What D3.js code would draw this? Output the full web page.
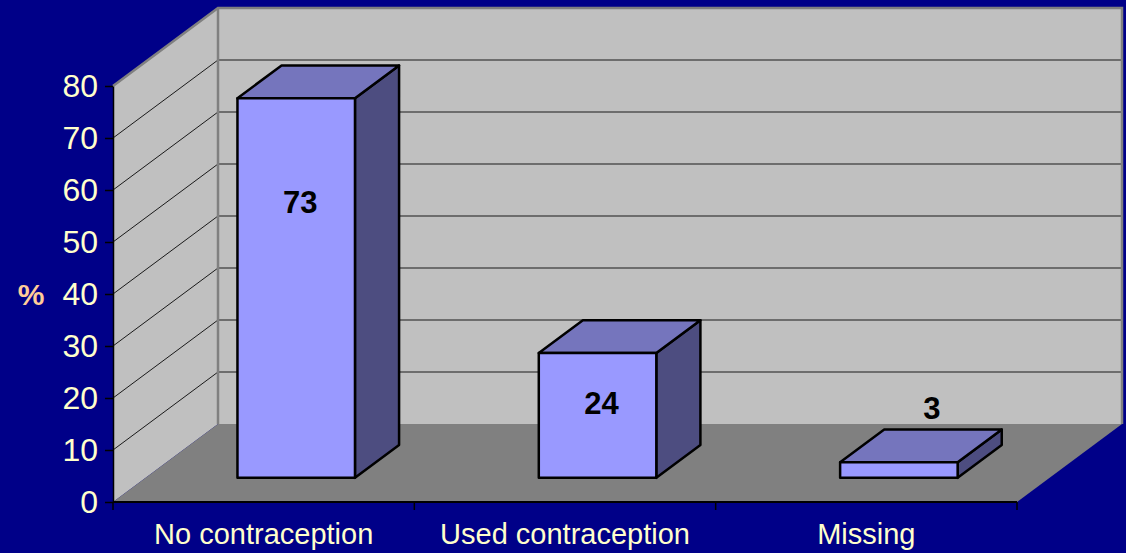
<!DOCTYPE html>
<html>
<head>
<meta charset="utf-8">
<script src="https://cdn.jsdelivr.net/npm/d3@7"></script>
<style>
    html, body { margin: 0; padding: 0; background: #000088; }
    svg { display: block; }
</style>
</head>
<body>
<svg id="chart" width="1126" height="553"></svg>
<script>
// chart data
const categories = ["No contraception", "Used contraception", "Missing"];
const values = [73, 24, 3];
const yTicks = [0, 10, 20, 30, 40, 50, 60, 70, 80];
const axisTitle = "%";

// colours
const bgColor = "#000088";
const wallColor = "#c0c0c0";
const floorColor = "#808080";
const edgeColor = "#808080";
const gridColor = "#1a1a1a";
const frontColor = "#9999ff";
const topColor = "#7575bd";
const sideColor = "#4d4d80";
const tickTextColor = "#ffffcc";
const titleColor = "#ffcc99";

const svg = d3.select("svg");
const font = "'Liberation Sans', Arial, sans-serif";

// front plane of the plot
const left = 113, right = 1017;
const y = d3.scaleLinear().domain([0, 80]).range([502, 86]);
const x = d3.scaleBand().domain(categories).range([left, right]);

// depth of the whole box, and where the bars sit in it (0 = front, 1 = back)
const depthX = 105, depthY = 78;
const barFront = 0.31, barBack = 0.73;
const barWidth = x.bandwidth() * 0.39;

function proj(px, py, f) {
    return [px + depthX * f, py - depthY * f];
}

const yTop = y(80), yBottom = y(0);

svg.append("rect")
    .attr("width", 1126).attr("height", 553)
    .attr("fill", bgColor);

// walls and floor
const box = svg.append("g");
const pts = a => a.map(p => p.join(",")).join(" ");
// back wall
box.append("polygon")
    .attr("points", pts([proj(left, yTop, 1), proj(right, yTop, 1), proj(right, yBottom, 1), proj(left, yBottom, 1)]))
    .attr("fill", wallColor);
// side wall
box.append("polygon")
    .attr("points", pts([[left, yTop], proj(left, yTop, 1), proj(left, yBottom, 1), [left, yBottom]]))
    .attr("fill", wallColor);
// floor
box.append("polygon")
    .attr("points", pts([[left, yBottom], proj(left, yBottom, 1), proj(right, yBottom, 1), [right, yBottom]]))
    .attr("fill", floorColor);

// gridlines on back wall and side wall
const gridVals = yTicks.filter(v => v > 0 && v < 80);
box.selectAll("line.back")
    .data(gridVals)
    .join("line")
    .attr("class", "back")
    .attr("x1", proj(left, 0, 1)[0])
    .attr("x2", proj(right, 0, 1)[0])
    .attr("y1", d => proj(0, y(d), 1)[1])
    .attr("y2", d => proj(0, y(d), 1)[1])
    .attr("stroke", gridColor)
    .attr("stroke-width", 1);
box.selectAll("line.side")
    .data(gridVals)
    .join("line")
    .attr("class", "side")
    .attr("x1", left)
    .attr("y1", d => y(d))
    .attr("x2", proj(left, 0, 1)[0])
    .attr("y2", d => proj(0, y(d), 1)[1])
    .attr("stroke", gridColor)
    .attr("stroke-width", 1);

// wall edges
box.append("polyline")
    .attr("points", pts([[left, yTop], proj(left, yTop, 1), proj(right, yTop, 1), proj(right, yBottom, 1)]))
    .attr("fill", "none")
    .attr("stroke", edgeColor)
    .attr("stroke-width", 2.5);
box.append("line")
    .attr("x1", proj(left, 0, 1)[0]).attr("x2", proj(left, 0, 1)[0])
    .attr("y1", proj(0, yTop, 1)[1]).attr("y2", proj(0, yBottom, 1)[1])
    .attr("stroke", edgeColor)
    .attr("stroke-width", 2.5);

// bars
const bars = svg.append("g")
    .attr("stroke", "#000")
    .attr("stroke-width", 2.5)
    .attr("stroke-linejoin", "round");
const dX = depthX * (barBack - barFront), dY = depthY * (barBack - barFront);

values.forEach((v, i) => {
    const cx = x(categories[i]) + x.bandwidth() / 2;
    const [x0, y0] = proj(cx - barWidth / 2, yBottom, barFront);
    const x1 = x0 + barWidth;
    const yv = y0 - (yBottom - y(v));
    const g = bars.append("g");
    g.append("polygon")
        .attr("points", pts([[x1, y0], [x1, yv], [x1 + dX, yv - dY], [x1 + dX, y0 - dY]]))
        .attr("fill", sideColor);
    g.append("polygon")
        .attr("points", pts([[x0, yv], [x0 + dX, yv - dY], [x1 + dX, yv - dY], [x1, yv]]))
        .attr("fill", topColor);
    g.append("rect")
        .attr("x", x0).attr("y", yv)
        .attr("width", barWidth).attr("height", y0 - yv)
        .attr("fill", frontColor);

    // value label: inside the bar when it fits, otherwise above it
    const inside = (y0 - yv) > 40;
    let lx, ly;
    if (inside) {
        lx = x0 + barWidth / 2 + 4;
        ly = y0 - (yBottom - y(0.79 * v - 4.6));
    } else {
        lx = x0 + barWidth / 2 + dX * 0.75;
        ly = y0 - (yBottom - y(13.5));
    }
    svg.append("text")
        .attr("x", lx).attr("y", ly)
        .attr("dy", "0.36em")
        .attr("text-anchor", "middle")
        .attr("font-family", font)
        .attr("font-weight", "bold")
        .attr("font-size", 31)
        .attr("fill", "#000")
        .text(v);
});

// y axis
const yAxis = svg.append("g")
    .attr("transform", `translate(${left},0)`)
    .call(d3.axisLeft(y).tickValues(yTicks).tickSize(8).tickPadding(7).tickSizeOuter(0));
yAxis.select(".domain").attr("stroke", "#000").attr("stroke-width", 1.5);
yAxis.selectAll(".tick line").attr("stroke", "#000").attr("stroke-width", 1.5);
yAxis.selectAll(".tick text")
    .attr("fill", tickTextColor)
    .attr("font-family", font)
    .attr("font-size", 32);

// floor front edge and category ticks
svg.append("line")
    .attr("x1", left).attr("x2", right)
    .attr("y1", yBottom).attr("y2", yBottom)
    .attr("stroke", "#000")
    .attr("stroke-width", 2);
const bounds = categories.map(c => x(c)).concat([right]);
svg.append("g")
    .selectAll("line")
    .data(bounds)
    .join("line")
    .attr("x1", d => d).attr("x2", d => d)
    .attr("y1", yBottom).attr("y2", yBottom + 8)
    .attr("stroke", "#000")
    .attr("stroke-width", 1.5);

svg.append("g")
    .selectAll("text")
    .data(categories)
    .join("text")
    .attr("x", d => x(d) + x.bandwidth() / 2)
    .attr("y", 544)
    .attr("text-anchor", "middle")
    .attr("font-family", font)
    .attr("font-size", 29)
    .attr("fill", tickTextColor)
    .text(d => d);

// axis title
svg.append("text")
    .attr("x", 31)
    .attr("y", y(40))
    .attr("dy", "0.36em")
    .attr("text-anchor", "middle")
    .attr("font-family", font)
    .attr("font-weight", "bold")
    .attr("font-size", 30)
    .attr("fill", titleColor)
    .text(axisTitle);
</script>
</body>
</html>
